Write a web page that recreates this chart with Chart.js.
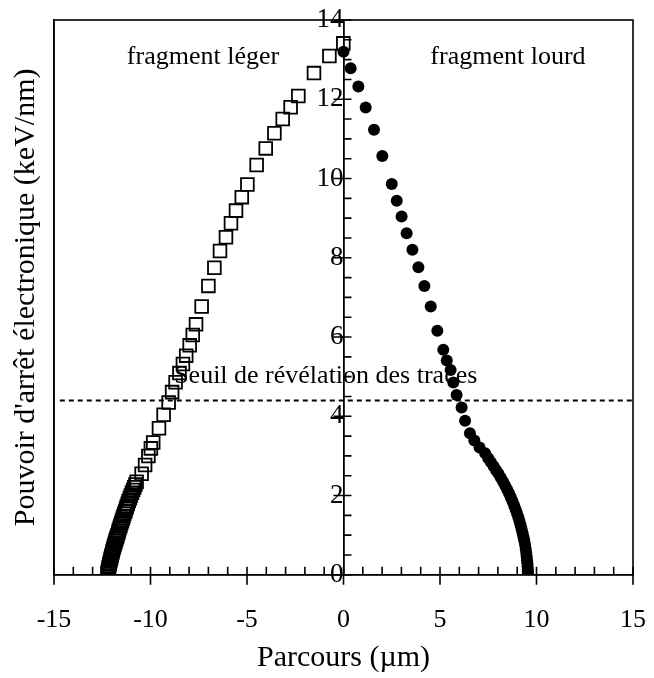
<!DOCTYPE html>
<html>
<head>
<meta charset="utf-8">
<script src="https://cdn.jsdelivr.net/npm/chart.js@4"></script>
<style>
  html, body { margin: 0; padding: 0; background: #fff; }
  canvas { display: block; }
</style>
</head>
<body>
<canvas id="myChart" width="654" height="678"></canvas>
<script>
// fragment léger (open squares): range in µm, stopping power in keV/nm
var lightRange = [
    -0.01, -0.73, -1.53, -2.34, -2.74, -3.15, -3.58, -4.03, -4.50, -4.98,
    -5.27, -5.57, -5.83, -6.09, -6.40, -6.69, -7.00, -7.35, -7.64, -7.81,
    -7.97, -8.15, -8.32, -8.50, -8.70, -8.88, -9.06, -9.32, -9.56, -9.86,
    -9.98, -10.11, -10.28, -10.46, -10.72, -10.78, -10.84, -10.90, -10.96, -11.02,
    -11.07, -11.13, -11.18, -11.23, -11.27, -11.31, -11.36, -11.40, -11.44, -11.48,
    -11.52, -11.56, -11.60, -11.64, -11.67, -11.71, -11.74, -11.78, -11.81, -11.84,
    -11.87, -11.90, -11.93, -11.96, -11.98, -12.01, -12.03, -12.05, -12.07, -12.09,
    -12.11, -12.13, -12.14, -12.16, -12.17, -12.18, -12.19, -12.20, -12.21, -12.21,
    -12.22
];
var lightStopping = [
    13.41, 13.09, 12.66, 12.08, 11.80, 11.50, 11.14, 10.76, 10.34, 9.85,
    9.53, 9.19, 8.87, 8.52, 8.17, 7.75, 7.29, 6.77, 6.32, 6.05,
    5.79, 5.53, 5.32, 5.09, 4.86, 4.61, 4.35, 4.04, 3.70, 3.34,
    3.19, 3.00, 2.77, 2.55, 2.35, 2.28, 2.21, 2.14, 2.07, 2.00,
    1.93, 1.86, 1.79, 1.72, 1.66, 1.60, 1.54, 1.48, 1.42, 1.36,
    1.30, 1.24, 1.18, 1.12, 1.06, 1.00, 0.95, 0.90, 0.85, 0.80,
    0.75, 0.70, 0.65, 0.60, 0.55, 0.50, 0.46, 0.42, 0.38, 0.34,
    0.30, 0.26, 0.22, 0.19, 0.16, 0.13, 0.10, 0.08, 0.06, 0.04,
    0.02
];

// fragment lourd (filled circles)
var heavyRange = [
    0.00, 0.37, 0.77, 1.15, 1.58, 2.01, 2.50, 2.76, 3.01, 3.27,
    3.57, 3.88, 4.19, 4.52, 4.86, 5.17, 5.35, 5.55, 5.69, 5.86,
    6.12, 6.30, 6.55, 6.78, 7.05, 7.34, 7.50, 7.64, 7.78, 7.91,
    8.03, 8.15, 8.27, 8.38, 8.48, 8.58, 8.67, 8.76, 8.84, 8.92,
    8.99, 9.06, 9.12, 9.18, 9.23, 9.28, 9.33, 9.37, 9.41, 9.44,
    9.47, 9.49, 9.51, 9.53, 9.54, 9.55, 9.55, 9.56
];
var heavyStopping = [
    13.20, 12.78, 12.32, 11.79, 11.23, 10.57, 9.86, 9.44, 9.04, 8.62,
    8.20, 7.76, 7.29, 6.77, 6.16, 5.68, 5.41, 5.17, 4.85, 4.54,
    4.22, 3.89, 3.57, 3.39, 3.21, 3.07, 2.94, 2.84, 2.74, 2.64,
    2.55, 2.45, 2.35, 2.25, 2.15, 2.05, 1.95, 1.85, 1.75, 1.65,
    1.55, 1.45, 1.35, 1.25, 1.15, 1.05, 0.95, 0.85, 0.75, 0.65,
    0.55, 0.46, 0.37, 0.29, 0.21, 0.14, 0.08, 0.03
];

// seuil de révélation
var thresholdRange = [-14.7, 15];
var thresholdLevel = [4.4, 4.4];

var xTickValues = [-15, -10, -5, 0, 5, 10, 15];
var yTickValues = [0, 2, 4, 6, 8, 10, 12, 14];

var notes = [
    { text: 'fragment léger', x: -7.28, y: 12.9 },
    { text: 'fragment lourd', x: 8.52, y: 12.9 },
    { text: 'Seuil de révélation des traces', x: -0.92, y: 4.85 }
];

var serif = "'Liberation Serif', 'Times New Roman', Times, serif";
Chart.defaults.font.family = serif;
Chart.defaults.color = '#000';

function toPoints(xs, ys) {
    return xs.map(function (v, i) { return { x: v, y: ys[i] }; });
}

// texts drawn under the markers
var notesPlugin = {
    id: 'notes',
    beforeDatasetsDraw: function (chart) {
        var ctx = chart.ctx;
        var sx = chart.scales.x, sy = chart.scales.y;
        ctx.save();
        ctx.font = '26px ' + serif;
        ctx.fillStyle = '#000';
        ctx.textAlign = 'center';
        ctx.textBaseline = 'alphabetic';
        notes.forEach(function (n) {
            ctx.fillText(n.text, sx.getPixelForValue(n.x), sy.getPixelForValue(n.y));
        });
        ctx.restore();
    }
};

// box around the plot + inner tick marks (minor and major)
var frameTicks = {
    id: 'frameTicks',
    afterDraw: function (chart) {
        var ctx = chart.ctx;
        var a = chart.chartArea;
        var sx = chart.scales.x, sy = chart.scales.y;
        var x0 = sx.getPixelForValue(0);
        ctx.save();
        ctx.strokeStyle = '#000';
        ctx.lineWidth = 1.6;
        ctx.strokeRect(a.left, a.top, a.right - a.left, a.bottom - a.top);
        ctx.beginPath();
        for (var v = sx.min; v <= sx.max; v += 1) {
            var px = sx.getPixelForValue(v);
            ctx.moveTo(px, a.bottom - 8);
            ctx.lineTo(px, v % 5 === 0 ? a.bottom + 10 : a.bottom);
        }
        for (var w = sy.min; w <= sy.max; w += 0.5) {
            var py = sy.getPixelForValue(w);
            ctx.moveTo(w % 2 === 0 ? x0 - 10 : x0, py);
            ctx.lineTo(x0 + 8, py);
        }
        ctx.stroke();
        ctx.restore();
    }
};

var ctx = document.getElementById('myChart').getContext('2d');
var chartConfig = {
    type: 'scatter',
    data: {
        datasets: [
            {
                label: 'fragment léger',
                data: toPoints(lightRange, lightStopping),
                pointStyle: 'rect',
                pointRadius: 9,
                borderColor: '#000',
                backgroundColor: 'rgba(0,0,0,0)',
                borderWidth: 1.8
            },
            {
                label: 'fragment lourd',
                data: toPoints(heavyRange, heavyStopping),
                pointStyle: 'circle',
                pointRadius: 6,
                borderWidth: 0,
                backgroundColor: '#000'
            },
            {
                label: 'seuil',
                data: toPoints(thresholdRange, thresholdLevel),
                showLine: true,
                pointRadius: 0,
                borderColor: '#000',
                borderWidth: 2,
                borderDash: [5, 4]
            }
        ]
    },
    options: {
        responsive: false,
        animation: false,
        devicePixelRatio: 1,
        layout: {
            padding: { left: 4, right: 21, top: 20, bottom: 0 }
        },
        scales: {
            x: {
                type: 'linear',
                position: 'bottom',
                min: -15,
                max: 15,
                afterBuildTicks: function (s) {
                    s.ticks = xTickValues.map(function (v) { return { value: v }; });
                },
                ticks: { font: { size: 26 }, padding: 0, maxRotation: 0, autoSkip: false },
                // invisible tick marks only push the labels down (visible ones are drawn by frameTicks)
                grid: { drawOnChartArea: false, drawTicks: true, tickLength: 30, tickColor: 'rgba(0,0,0,0)' },
                border: { display: true, color: '#000', width: 1.6 },
                title: {
                    display: true,
                    text: 'Parcours (µm)',
                    font: { size: 30 },
                    padding: { top: 4, bottom: 2 }
                }
            },
            y: {
                type: 'linear',
                position: 'left',
                min: 0,
                max: 14,
                ticks: { display: false },
                grid: { drawOnChartArea: false, drawTicks: false },
                border: { display: true, color: '#000', width: 1.6 },
                title: {
                    display: true,
                    text: "Pouvoir d'arrêt électronique (keV/nm)",
                    font: { size: 30 },
                    padding: { top: 4, bottom: 10 }
                }
            },
            yc: {
                type: 'linear',
                position: { x: 0 },
                min: 0,
                max: 14,
                afterBuildTicks: function (s) {
                    s.ticks = yTickValues.map(function (v) { return { value: v }; });
                },
                // the centre axis sits inside the plot, it must not take layout room
                afterFit: function (s) {
                    s.width = 0;
                    s.paddingTop = 0;
                    s.paddingBottom = 0;
                    s.paddingLeft = 0;
                    s.paddingRight = 0;
                },
                ticks: { font: { size: 27 }, padding: 25 },
                grid: { drawOnChartArea: false, drawTicks: false },
                border: { display: true, color: '#000', width: 1.8 }
            }
        },
        plugins: {
            legend: { display: false },
            tooltip: { enabled: false }
        }
    },
    plugins: [notesPlugin, frameTicks]
};

var myChart = new Chart(ctx, chartConfig);
</script>
</body>
</html>
